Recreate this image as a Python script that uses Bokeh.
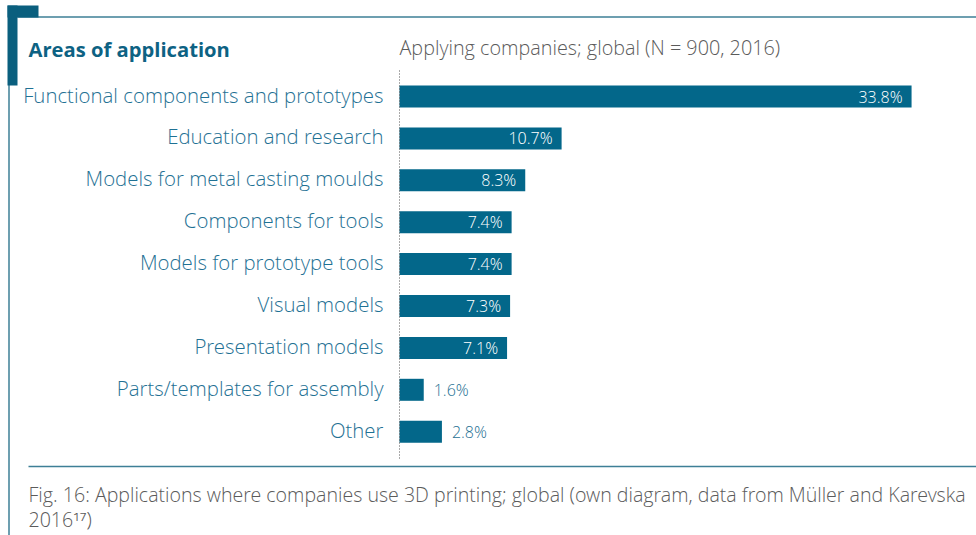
from bokeh.plotting import figure
from bokeh.models import Range1d, ColumnDataSource
from bokeh.core.properties import value
from bokeh.embed import file_html
from bokeh.resources import INLINE

categories = ["Functional components and prototypes", "Education and research",
              "Models for metal casting moulds", "Components for tools",
              "Models for prototype tools", "Visual models", "Presentation models",
              "Parts/templates for assembly", "Other"]
shares = [33.8, 10.7, 8.3, 7.4, 7.4, 7.3, 7.1, 1.6, 2.8]
share_labels = ["33.8%", "10.7%", "8.3%", "7.4%", "7.4%", "7.3%", "7.1%", "1.6%", "2.8%"]

title = "Areas of application"
subtitle = "Applying companies; global (N = 900, 2016)"
caption1 = "Fig. 16: Applications where companies use 3D printing; global (own diagram, data from Müller and Karevska"
caption2 = "2016\u00b9\u2077)"

BAR = "#03678a"
TEAL_TXT = "#1f7194"
GRAY = "#5b5b5b"
FONT = "Open Sans Light, Open Sans"
BOLD_FONT = "Open Sans"

W, H = 976, 535
ZERO_PX = 399.0      # pixel of value 0
PX_PER = 15.15       # pixels per percent
ROW0_PX = 96.0       # pixel of first row center from top
ROW_PX = 41.9        # row pitch

def dx(px):
    return (px - ZERO_PX) / PX_PER

def dy(py):
    return (py - ROW0_PX) / ROW_PX

p = figure(width=W, height=H, output_backend="svg", toolbar_location=None,
           x_range=Range1d(dx(0), dx(W)), y_range=Range1d(dy(H), dy(0)),
           min_border=0, outline_line_color=None)
p.axis.visible = False
p.grid.visible = False
p.background_fill_color = "white"

idx = list(range(len(categories)))
inside = [s >= 5 for s in shares]
src = ColumnDataSource(dict(y=idx, v=shares, cat=categories, lab=share_labels))
p.hbar(y="y", left=0, right="v", height=22 / ROW_PX, source=src, color=BAR, line_color=None)

# category labels
p.text(x=[dx(ZERO_PX - 16)] * len(idx), y=idx, text=categories, text_align="right",
       text_baseline="middle", y_offset=-2, text_font=value(FONT), text_font_size="20.4px",
       text_color=TEAL_TXT)

# value labels
in_x = [s for s, i in zip(shares, inside) if i]
in_y = [k for k, i in zip(idx, inside) if i]
in_t = [t for t, i in zip(share_labels, inside) if i]
p.text(x=in_x, y=in_y, text=in_t, x_offset=-9, text_align="right", text_baseline="middle",
       text_font=value(FONT), text_font_size="16px", text_color="white")
out_x = [s for s, i in zip(shares, inside) if not i]
out_y = [k for k, i in zip(idx, inside) if not i]
out_t = [t for t, i in zip(share_labels, inside) if not i]
p.text(x=out_x, y=out_y, text=out_t, x_offset=10, text_align="left", text_baseline="middle",
       text_font=value(FONT), text_font_size="16px", text_color=TEAL_TXT)

# dotted baseline
p.segment(x0=[0], y0=[dy(70)], x1=[0], y1=[dy(458)], line_color="#555555",
          line_dash="1 2", line_width=1)

# frame decorations
p.segment(x0=[dx(17)], y0=[dy(16.5)], x1=[dx(W)], y1=[dy(16.5)], line_color="#3d7f96", line_width=1.5)
p.segment(x0=[dx(28)], y0=[dy(466)], x1=[dx(W)], y1=[dy(466)], line_color="#3d7f96", line_width=1.5)
p.segment(x0=[dx(8.5)], y0=[dy(78)], x1=[dx(8.5)], y1=[dy(H)], line_color="#3d7f96", line_width=1.5)
p.quad(left=[dx(7), dx(7)], right=[dx(38), dx(17)], top=[dy(5), dy(5)],
       bottom=[dy(17), dy(85)], color="#0a5f7e", line_color=None)

# titles
p.text(x=[dx(28)], y=[dy(48)], text=[title], text_baseline="middle", text_font=value(BOLD_FONT),
       text_font_style="bold", text_font_size="20.2px", text_color="#0d6283")
p.text(x=[dx(ZERO_PX)], y=[dy(47)], text=[subtitle], text_baseline="middle",
       text_font=value(FONT), text_font_size="19.8px", text_color=GRAY)
p.text(x=[dx(28), dx(28)], y=[dy(494), dy(519)], text=[caption1, caption2],
       text_baseline="middle", text_font=value(FONT), text_font_size="19.6px", text_color=GRAY)

open("out.html", "w").write(file_html(p, INLINE))
